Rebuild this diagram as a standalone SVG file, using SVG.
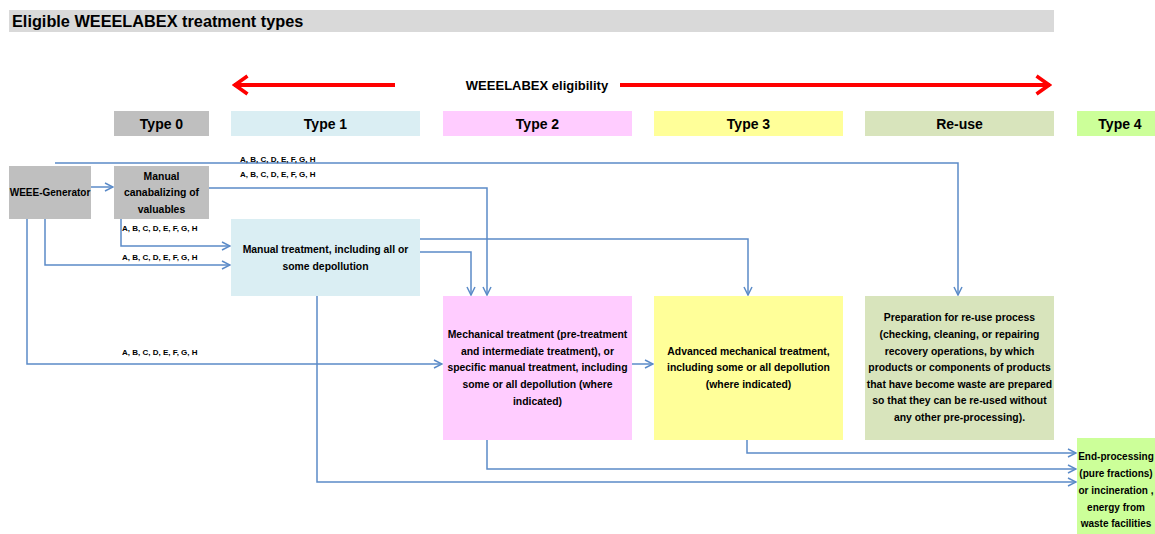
<svg xmlns="http://www.w3.org/2000/svg" width="1155" height="534" viewBox="0 0 1155 534">
<defs>
<style>
text{font-family:"Liberation Sans",Arial,sans-serif;font-weight:bold;fill:#000}
.t{font-size:10.4px;text-anchor:middle}
.s{font-size:10px}
.h{font-size:14px;text-anchor:middle}
.lab{font-size:8px}
.c{fill:none;stroke:#5B8BC8;stroke-width:1.5}
.r{fill:none;stroke:#FF0000;stroke-width:4}
</style>
<marker id="a" viewBox="0 0 10 10" refX="9" refY="5" markerWidth="10" markerHeight="10" markerUnits="userSpaceOnUse" orient="auto">
<path d="M1,1 L9,5 L1,9" fill="none" stroke="#5B8BC8" stroke-width="1.5"/>
</marker>
<marker id="ra" viewBox="0 0 20 24" refX="18" refY="12" markerWidth="18" markerHeight="22" markerUnits="userSpaceOnUse" orient="auto-start-reverse">
<path d="M3,2 L17,12 L3,22" fill="none" stroke="#FF0000" stroke-width="4"/>
</marker>
</defs>
<rect width="1155" height="534" fill="#fff"/>
<g id="title">
<rect x="9" y="10" width="1045" height="22" fill="#D9D9D9"/>
<text x="12" y="27" style="font-size:16.3px">Eligible WEEELABEX treatment types</text>
</g>
<g id="eligibility">
<line class="r" x1="234" y1="85" x2="395" y2="85" marker-start="url(#ra)"/>
<line class="r" x1="620" y1="85" x2="1050" y2="85" marker-end="url(#ra)"/>
<text x="537" y="90" style="font-size:13px;text-anchor:middle">WEEELABEX eligibility</text>
</g>
<g id="headers">
<rect x="114" y="111" width="95" height="25" fill="#BFBFBF"/><text class="h" x="161.5" y="129">Type 0</text>
<rect x="231" y="111" width="189" height="25" fill="#DAEEF3"/><text class="h" x="325.5" y="129">Type 1</text>
<rect x="443" y="111" width="189" height="25" fill="#FFCCFF"/><text class="h" x="537.5" y="129">Type 2</text>
<rect x="654" y="111" width="189" height="25" fill="#FFFF99"/><text class="h" x="748.5" y="129">Type 3</text>
<rect x="865" y="111" width="189" height="25" fill="#D8E4BC"/><text class="h" x="959.5" y="129">Re-use</text>
<rect x="1077" y="111" width="78" height="25" fill="#CCFF99"/><text class="h" x="1120" y="129">Type 4</text>
</g>
<g id="connectors">
<polyline class="c" points="55,163 958,163 958,295" marker-end="url(#a)"/>
<polyline class="c" points="209,188 487,188 487,295" marker-end="url(#a)"/>
<polyline class="c" points="91,187 113,187" marker-end="url(#a)"/>
<polyline class="c" points="121,219 121,246 230,246" marker-end="url(#a)"/>
<polyline class="c" points="45,219 45,265 230,265" marker-end="url(#a)"/>
<polyline class="c" points="27,219 27,364 442,364" marker-end="url(#a)"/>
<polyline class="c" points="420,239 748,239 748,295" marker-end="url(#a)"/>
<polyline class="c" points="420,252 471,252 471,295" marker-end="url(#a)"/>
<polyline class="c" points="632,364 653,364" marker-end="url(#a)"/>
<polyline class="c" points="317,296 317,482 1076,482" marker-end="url(#a)"/>
<polyline class="c" points="487,440 487,469 1076,469" marker-end="url(#a)"/>
<polyline class="c" points="747,440 747,453 1076,453" marker-end="url(#a)"/>
<text class="lab" x="240" y="162">A, B, C, D, E, F, G, H</text>
<text class="lab" x="240" y="177">A, B, C, D, E, F, G, H</text>
<text class="lab" x="122" y="231">A, B, C, D, E, F, G, H</text>
<text class="lab" x="122" y="260">A, B, C, D, E, F, G, H</text>
<text class="lab" x="122" y="355">A, B, C, D, E, F, G, H</text>
</g>
<g id="weee-generator">
<rect x="9" y="166" width="82" height="53" fill="#BFBFBF"/>
<text class="t s" x="50" y="196">WEEE-Generator</text>
</g>
<g id="manual-canabalizing">
<rect x="114" y="166" width="95" height="53" fill="#BFBFBF"/>
<text class="t" x="161.5" y="180">Manual</text>
<text class="t" x="161.5" y="196">canabalizing of</text>
<text class="t" x="161.5" y="213">valuables</text>
</g>
<g id="manual-treatment">
<rect x="231" y="219" width="189" height="77" fill="#DAEEF3"/>
<text class="t" x="325.5" y="253">Manual treatment, including all or</text>
<text class="t" x="325.5" y="270">some depollution</text>
</g>
<g id="mechanical-treatment">
<rect x="443" y="296" width="189" height="144" fill="#FFCCFF"/>
<text class="t" x="537.5" y="338">Mechanical treatment (pre-treatment</text>
<text class="t" x="537.5" y="355">and intermediate treatment), or</text>
<text class="t" x="537.5" y="371">specific manual treatment, including</text>
<text class="t" x="537.5" y="388">some or all depollution (where</text>
<text class="t" x="537.5" y="405">indicated)</text>
</g>
<g id="advanced-mechanical">
<rect x="654" y="296" width="189" height="144" fill="#FFFF99"/>
<text class="t" x="748.5" y="355">Advanced mechanical treatment,</text>
<text class="t" x="748.5" y="371">including some or all depollution</text>
<text class="t" x="748.5" y="388">(where indicated)</text>
</g>
<g id="preparation-reuse">
<rect x="865" y="296" width="189" height="144" fill="#D8E4BC"/>
<text class="t" x="959.5" y="321">Preparation for re-use process</text>
<text class="t" x="959.5" y="338">(checking, cleaning, or repairing</text>
<text class="t" x="959.5" y="355">recovery operations, by which</text>
<text class="t" x="959.5" y="371">products or components of products</text>
<text class="t" x="959.5" y="388">that have become waste are prepared</text>
<text class="t" x="959.5" y="404">so that they can be re-used without</text>
<text class="t" x="959.5" y="421">any other pre-processing).</text>
</g>
<g id="end-processing">
<rect x="1077" y="438" width="78" height="96" fill="#CCFF99"/>
<text class="t s" x="1116" y="460">End-processing</text>
<text class="t s" x="1116" y="477">(pure fractions)</text>
<text class="t s" x="1116" y="494">or incineration ,</text>
<text class="t s" x="1116" y="511">energy from</text>
<text class="t s" x="1116" y="527">waste facilities</text>
</g>
</svg>
